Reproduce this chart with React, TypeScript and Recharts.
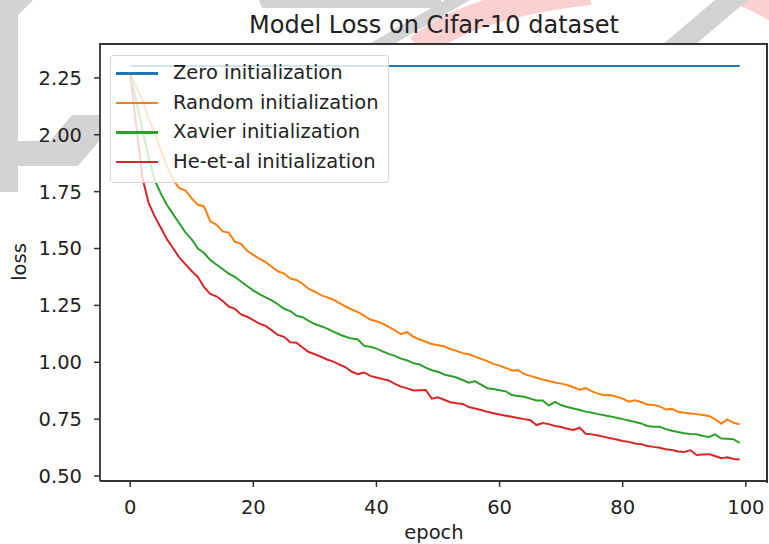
import { LineChart, Line, XAxis, YAxis, CartesianGrid } from 'recharts';

// epochs 0..99
const epochs = Array.from({ length: 100 }, (_, i) => i);

const zeroLoss = [
    2.3026, 2.3026, 2.3026, 2.3026, 2.3026, 2.3026, 2.3026, 2.3026, 2.3026, 2.3026,
    2.3026, 2.3026, 2.3026, 2.3026, 2.3026, 2.3026, 2.3026, 2.3026, 2.3026, 2.3026,
    2.3026, 2.3026, 2.3026, 2.3026, 2.3026, 2.3026, 2.3026, 2.3026, 2.3026, 2.3026,
    2.3026, 2.3026, 2.3026, 2.3026, 2.3026, 2.3026, 2.3026, 2.3026, 2.3026, 2.3026,
    2.3026, 2.3026, 2.3026, 2.3026, 2.3026, 2.3026, 2.3026, 2.3026, 2.3026, 2.3026,
    2.3026, 2.3026, 2.3026, 2.3026, 2.3026, 2.3026, 2.3026, 2.3026, 2.3026, 2.3026,
    2.3026, 2.3026, 2.3026, 2.3026, 2.3026, 2.3026, 2.3026, 2.3026, 2.3026, 2.3026,
    2.3026, 2.3026, 2.3026, 2.3026, 2.3026, 2.3026, 2.3026, 2.3026, 2.3026, 2.3026,
    2.3026, 2.3026, 2.3026, 2.3026, 2.3026, 2.3026, 2.3026, 2.3026, 2.3026, 2.3026,
    2.3026, 2.3026, 2.3026, 2.3026, 2.3026, 2.3026, 2.3026, 2.3026, 2.3026, 2.3026,
];

const randomLoss = [
    2.27, 2.21, 2.15, 2.07, 2.01, 1.93, 1.86, 1.80, 1.765, 1.755,
    1.72, 1.692, 1.685, 1.62, 1.605, 1.575, 1.57, 1.53, 1.52, 1.49,
    1.472, 1.455, 1.44, 1.42, 1.40, 1.39, 1.368, 1.362, 1.345, 1.322,
    1.31, 1.295, 1.285, 1.275, 1.26, 1.245, 1.232, 1.22, 1.205, 1.188,
    1.18, 1.17, 1.155, 1.14, 1.123, 1.132, 1.112, 1.10, 1.09, 1.08,
    1.075, 1.07, 1.058, 1.05, 1.04, 1.035, 1.025, 1.015, 1.005, 0.993,
    0.985, 0.975, 0.964, 0.965, 0.948, 0.94, 0.932, 0.924, 0.918, 0.911,
    0.906, 0.9, 0.89, 0.879, 0.886, 0.872, 0.862, 0.855, 0.856, 0.848,
    0.84, 0.827, 0.833, 0.825, 0.814, 0.812, 0.806, 0.792, 0.795, 0.782,
    0.778, 0.775, 0.772, 0.768, 0.764, 0.75, 0.73, 0.749, 0.734, 0.727,
];

const xavierLoss = [
    2.26, 2.15, 2.02, 1.90, 1.80, 1.74, 1.69, 1.65, 1.61, 1.57,
    1.54, 1.50, 1.48, 1.45, 1.43, 1.41, 1.39, 1.375, 1.355, 1.335,
    1.315, 1.30, 1.285, 1.272, 1.255, 1.235, 1.225, 1.205, 1.198, 1.182,
    1.168, 1.158, 1.148, 1.135, 1.122, 1.112, 1.104, 1.100, 1.072, 1.068,
    1.06, 1.048, 1.037, 1.028, 1.016, 1.008, 0.996, 0.99, 0.976, 0.965,
    0.958, 0.946, 0.94, 0.933, 0.922, 0.91, 0.916, 0.902, 0.886, 0.882,
    0.877, 0.872, 0.856, 0.852, 0.848, 0.84, 0.832, 0.832, 0.81, 0.826,
    0.812, 0.803, 0.797, 0.79, 0.783, 0.778, 0.772, 0.767, 0.762, 0.756,
    0.75, 0.744, 0.737, 0.731, 0.72, 0.717, 0.716, 0.706, 0.699, 0.693,
    0.688, 0.685, 0.683, 0.676, 0.672, 0.683, 0.665, 0.664, 0.662, 0.645,
];

const heLoss = [
    2.26, 2.04, 1.81, 1.70, 1.64, 1.59, 1.54, 1.50, 1.46, 1.43,
    1.40, 1.375, 1.33, 1.30, 1.29, 1.27, 1.245, 1.235, 1.21, 1.20,
    1.185, 1.17, 1.16, 1.14, 1.12, 1.112, 1.088, 1.086, 1.065, 1.045,
    1.035, 1.024, 1.012, 1.003, 0.99, 0.978, 0.958, 0.948, 0.955, 0.94,
    0.933, 0.926, 0.92, 0.905, 0.893, 0.885, 0.876, 0.877, 0.878, 0.84,
    0.846, 0.835, 0.824, 0.82, 0.817, 0.803, 0.797, 0.79, 0.782, 0.776,
    0.77, 0.765, 0.76, 0.755, 0.75, 0.745, 0.724, 0.733, 0.728, 0.72,
    0.715, 0.708, 0.702, 0.712, 0.686, 0.683, 0.678, 0.672, 0.666, 0.66,
    0.654, 0.65, 0.643, 0.64, 0.632, 0.628, 0.624, 0.618, 0.614, 0.608,
    0.606, 0.613, 0.592, 0.594, 0.596, 0.588, 0.578, 0.582, 0.575, 0.572,
];

const xTicks = [0, 20, 40, 60, 80, 100];
const yTicks = [0.5, 0.75, 1.0, 1.25, 1.5, 1.75, 2.0, 2.25];
const xDomain = [-4.9, 103.6];
const yDomain = [0.478, 2.399];

const seriesInfo = [
    { key: 'zero', name: 'Zero initialization', color: '#1f77b4' },
    { key: 'random', name: 'Random initialization', color: '#ff7f0e' },
    { key: 'xavier', name: 'Xavier initialization', color: '#2ca02c' },
    { key: 'he', name: 'He-et-al initialization', color: '#d62728' },
];

const chartData = epochs.map((e, i) => ({
    epoch: e,
    zero: zeroLoss[i],
    random: randomLoss[i],
    xavier: xavierLoss[i],
    he: heLoss[i],
}));

const FONT = 'DejaVu Sans, sans-serif';
const SPINE = '#333';
const TEXT = '#222';

// faint logo watermark showing around the axes
const Watermark = () => (
    <svg width={769} height={544} style={{ position: 'absolute', left: 0, top: 0 }}>
        <polygon points="0,0 33,0 18,15 18,141 50,141 72,115 100,115 100,140 78,166 18,166 18,192 0,192" fill="#d3d3d3" />
        <polygon points="259,0 441,0 441,8 262,8" fill="#d3d3d3" />
        <path d="M 418 48 Q 470 5 590 -8" stroke="#fbd0d0" strokeWidth={26} fill="none" />
        <path d="M 735 -8 Q 762 2 782 16" stroke="#fbd0d0" strokeWidth={22} fill="none" />
        <polygon points="445,0 470,0 394,44 369,44" fill="#d3d3d3" />
        <polygon points="715,0 748,0 696,44 663,44" fill="#d3d3d3" />
    </svg>
);

const Labels = () => (
    <svg width={769} height={544} style={{ position: 'absolute', left: 0, top: 0, pointerEvents: 'none' }}>
        <text x={434} y={33} textAnchor="middle" fontFamily={FONT} fontSize={24} fill={TEXT}>
            Model Loss on Cifar-10 dataset
        </text>
        <text x={434} y={539} textAnchor="middle" fontFamily={FONT} fontSize={19.5} fill={TEXT}>
            epoch
        </text>
        <text x={26} y={262} textAnchor="middle" fontFamily={FONT} fontSize={19.5} fill={TEXT} transform="rotate(-90 26 262)">
            loss
        </text>
    </svg>
);

// top and right spines of the axes box
const Frame = () => (
    <div
        style={{
            position: 'absolute',
            left: 99,
            top: 43,
            width: 667,
            height: 438,
            borderTop: `2px solid ${SPINE}`,
            borderRight: `2px solid ${SPINE}`,
            pointerEvents: 'none',
        }}
    />
);

const LegendBox = () => (
    <div
        style={{
            position: 'absolute',
            left: 110,
            top: 55,
            width: 277,
            height: 126,
            background: 'rgba(255,255,255,0.8)',
            border: '1px solid rgba(204,204,204,0.8)',
            borderRadius: 4,
            fontFamily: FONT,
            fontSize: 19.5,
            color: TEXT,
        }}
    >
        {seriesInfo.map((s, i) => (
            <div key={s.key} style={{ position: 'absolute', left: 0, top: 17 + i * 29.5 - 14, height: 28, width: 277 }}>
                <div style={{ position: 'absolute', left: 5, top: 13, width: 42, height: 2.5, background: s.color }} />
                <div style={{ position: 'absolute', left: 62, top: 0, lineHeight: '28px', whiteSpace: 'nowrap' }}>{s.name}</div>
            </div>
        ))}
    </div>
);

export default function App() {
    return (
        <div style={{ position: 'absolute', left: 0, top: 0, width: 769, height: 544, background: '#fff', overflow: 'hidden' }}>
            <Watermark />
            <div style={{ position: 'absolute', left: 0, top: 0 }}>
                <LineChart width={769} height={544} data={chartData} margin={{ top: 44, right: 1, bottom: 0, left: 0 }}>
                    <CartesianGrid horizontal={false} vertical={false} fill="#fff" fillOpacity={1} />
                    <XAxis
                        dataKey="epoch"
                        type="number"
                        domain={xDomain}
                        ticks={xTicks}
                        allowDataOverflow
                        height={63}
                        tickSize={6}
                        tickMargin={13}
                        axisLine={{ stroke: SPINE, strokeWidth: 1.8 }}
                        tickLine={{ stroke: SPINE, strokeWidth: 1.5 }}
                        tick={{ fill: TEXT, fontSize: 19.5, fontFamily: FONT }}
                    />
                    <YAxis
                        type="number"
                        domain={yDomain}
                        ticks={yTicks}
                        allowDataOverflow
                        width={100}
                        tickSize={6}
                        tickMargin={12}
                        tickFormatter={(v: number) => v.toFixed(2)}
                        axisLine={{ stroke: SPINE, strokeWidth: 1.8 }}
                        tickLine={{ stroke: SPINE, strokeWidth: 1.5 }}
                        tick={{ fill: TEXT, fontSize: 19.5, fontFamily: FONT }}
                    />
                    {seriesInfo.map((s) => (
                        <Line
                            key={s.key}
                            type="linear"
                            dataKey={s.key}
                            name={s.name}
                            stroke={s.color}
                            strokeWidth={2}
                            dot={false}
                            activeDot={false}
                            isAnimationActive={false}
                        />
                    ))}
                </LineChart>
            </div>
            <Frame />
            <Labels />
            <LegendBox />
        </div>
    );
}
